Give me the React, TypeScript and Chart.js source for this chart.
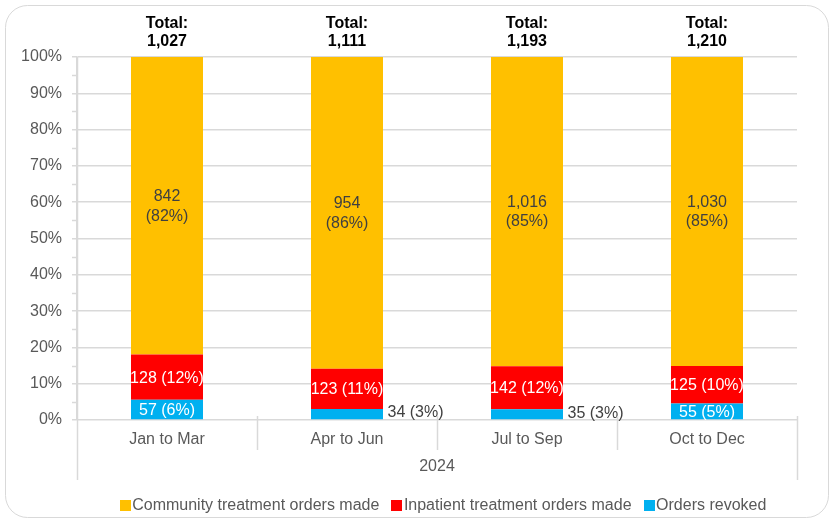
import React, { useEffect, useRef } from 'react';
import { Chart, registerables } from 'chart.js';

Chart.register(...registerables);

const categories = ['Jan to Mar', 'Apr to Jun', 'Jul to Sep', 'Oct to Dec'];
const groupLabel = '2024';
const community = [842, 954, 1016, 1030];
const inpatient = [128, 123, 142, 125];
const revoked = [57, 34, 35, 55];
const totals = [1027, 1111, 1193, 1210];
const revokedInside = [true, false, false, true];
const seriesNames = ['Community treatment orders made', 'Inpatient treatment orders made', 'Orders revoked'];
const seriesColors = ['#FFC000', '#FF0000', '#00B0F0'];

const FONT = '"Liberation Sans", Arial, sans-serif';
const GRID = '#d9d9d9';
const TEXT = '#595959';

const pct = (v: number, i: number) => (v / totals[i]) * 100;
const fmt = (v: number) => v.toLocaleString('en-US');
const pLabel = (v: number, i: number) => `(${Math.round(pct(v, i))}%)`;

const decorPlugin = {
  id: 'decor',
  beforeDraw(chart: any) {
    const ctx = chart.ctx;
    ctx.save();
    ctx.fillStyle = '#ffffff';
    ctx.fillRect(0, 0, chart.width, chart.height);
    ctx.strokeStyle = GRID;
    ctx.lineWidth = 1;
    ctx.beginPath();
    ctx.roundRect(5.5, 5.5, 823, 512, 22);
    ctx.stroke();
    ctx.restore();
  },
  afterDraw(chart: any) {
    const ctx = chart.ctx;
    const ys = chart.scales.y;
    const area = chart.chartArea;
    ctx.save();
    ctx.strokeStyle = GRID;
    ctx.lineWidth = 1.5;
    // minor ticks on y axis
    for (let v = 5; v < 100; v += 10) {
      const y = Math.round(ys.getPixelForValue(v)) + 0.5;
      ctx.beginPath();
      ctx.moveTo(area.left - 5, y);
      ctx.lineTo(area.left, y);
      ctx.stroke();
    }
    // category separators
    const step = (area.right - area.left) / categories.length;
    for (let k = 0; k <= categories.length; k++) {
      const x = Math.round(area.left + k * step) + 0.5;
      const outer = k === 0 || k === categories.length;
      ctx.beginPath();
      ctx.moveTo(x, k === 0 ? area.top : area.bottom - 4);
      ctx.lineTo(x, outer ? area.bottom + 60 : area.bottom + 30);
      ctx.stroke();
    }
    // group label
    ctx.fillStyle = TEXT;
    ctx.font = `16px ${FONT}`;
    ctx.textAlign = 'center';
    ctx.textBaseline = 'middle';
    ctx.fillText(groupLabel, (area.left + area.right) / 2, area.bottom + 47);

    // legend
    const items = [0, 1, 2].map((k) => ({ name: seriesNames[k], color: seriesColors[k], w: ctx.measureText(seriesNames[k]).width }));
    const box = 11, gap = 1.5, spacing = 12;
    const total = items.reduce((s, it) => s + box + gap + it.w, 0) + spacing * (items.length - 1);
    let lx = 443 - total / 2;
    const ly = 505;
    ctx.textAlign = 'left';
    items.forEach((it) => {
      ctx.fillStyle = it.color;
      ctx.fillRect(Math.round(lx), ly - 5, box, box);
      lx += box + gap;
      ctx.fillStyle = TEXT;
      ctx.fillText(it.name, lx, ly + 1);
      lx += it.w + spacing;
    });
    ctx.restore();
  },
  afterDatasetsDraw(chart: any) {
    const ctx = chart.ctx;
    ctx.save();
    ctx.font = `16px ${FONT}`;
    ctx.textBaseline = 'middle';
    // dataset 0 revoked, 1 inpatient, 2 community
    const metaR = chart.getDatasetMeta(0);
    const metaI = chart.getDatasetMeta(1);
    const metaC = chart.getDatasetMeta(2);
    categories.forEach((_, i) => {
      const r = metaR.data[i];
      const inp = metaI.data[i];
      const c = metaC.data[i];
      // community
      ctx.fillStyle = '#404040';
      ctx.textAlign = 'center';
      const cy = (c.y + c.base) / 2;
      ctx.fillText(fmt(community[i]), c.x, cy - 9);
      ctx.fillText(pLabel(community[i], i), c.x, cy + 10.5);
      // inpatient
      ctx.fillStyle = '#ffffff';
      ctx.fillText(`${fmt(inpatient[i])} ${pLabel(inpatient[i], i)}`, inp.x, (inp.y + inp.base) / 2 + 1);
      // revoked
      const ry = (r.y + r.base) / 2;
      const rtxt = `${fmt(revoked[i])} ${pLabel(revoked[i], i)}`;
      if (revokedInside[i]) {
        ctx.fillStyle = '#ffffff';
        ctx.fillText(rtxt, r.x, ry + 1);
      } else {
        ctx.fillStyle = '#404040';
        ctx.textAlign = 'left';
        ctx.fillText(rtxt, r.x + r.width / 2 + 4.5, ry - 1);
      }
      // totals
      ctx.fillStyle = '#000000';
      ctx.textAlign = 'center';
      ctx.font = `bold 16px ${FONT}`;
      ctx.fillText('Total:', c.x, 24);
      ctx.fillText(fmt(totals[i]), c.x, 42);
      ctx.font = `16px ${FONT}`;
    });
    ctx.restore();
  },
};

export default function App() {
  const ref = useRef<HTMLCanvasElement>(null);
  useEffect(() => {
    if (!ref.current) return;
    Chart.defaults.font.family = FONT;
    const chart = new Chart(ref.current, {
      type: 'bar',
      data: {
        labels: categories,
        datasets: [
          { label: seriesNames[2], data: revoked.map(pct), backgroundColor: seriesColors[2] },
          { label: seriesNames[1], data: inpatient.map(pct), backgroundColor: seriesColors[1] },
          { label: seriesNames[0], data: community.map(pct), backgroundColor: seriesColors[0] },
        ],
      },
      options: {
        animation: false,
        responsive: false,
        maintainAspectRatio: false,
        layout: { padding: { left: 0, right: 37, top: 57, bottom: 0 } },
        datasets: { bar: { barPercentage: 0.4, categoryPercentage: 1 } },
        plugins: { legend: { display: false }, tooltip: { enabled: false } },
        scales: {
          x: {
            stacked: true,
            grid: { display: false, drawTicks: false },
            border: { display: false },
            ticks: { color: TEXT, font: { size: 16, family: FONT }, padding: 10 },
            afterFit: (s: any) => { s.height = 102; },
          },
          y: {
            stacked: true,
            min: 0,
            max: 100,
            ticks: { stepSize: 10, color: TEXT, font: { size: 16, family: FONT }, padding: 10, callback: (v: any) => `${v}%` },
            grid: { color: GRID, lineWidth: 1.5, tickLength: 5 },
            border: { display: true, color: GRID, width: 1.5 },
            afterFit: (s: any) => { s.width = 77; },
          },
        },
      },
      plugins: [decorPlugin],
    });
    return () => chart.destroy();
  }, []);
  return (
    <div style={{ position: 'fixed', left: 0, top: 0, width: 834, height: 522 }}>
      <canvas ref={ref} width={834} height={522} style={{ display: 'block' }} />
    </div>
  );
}
